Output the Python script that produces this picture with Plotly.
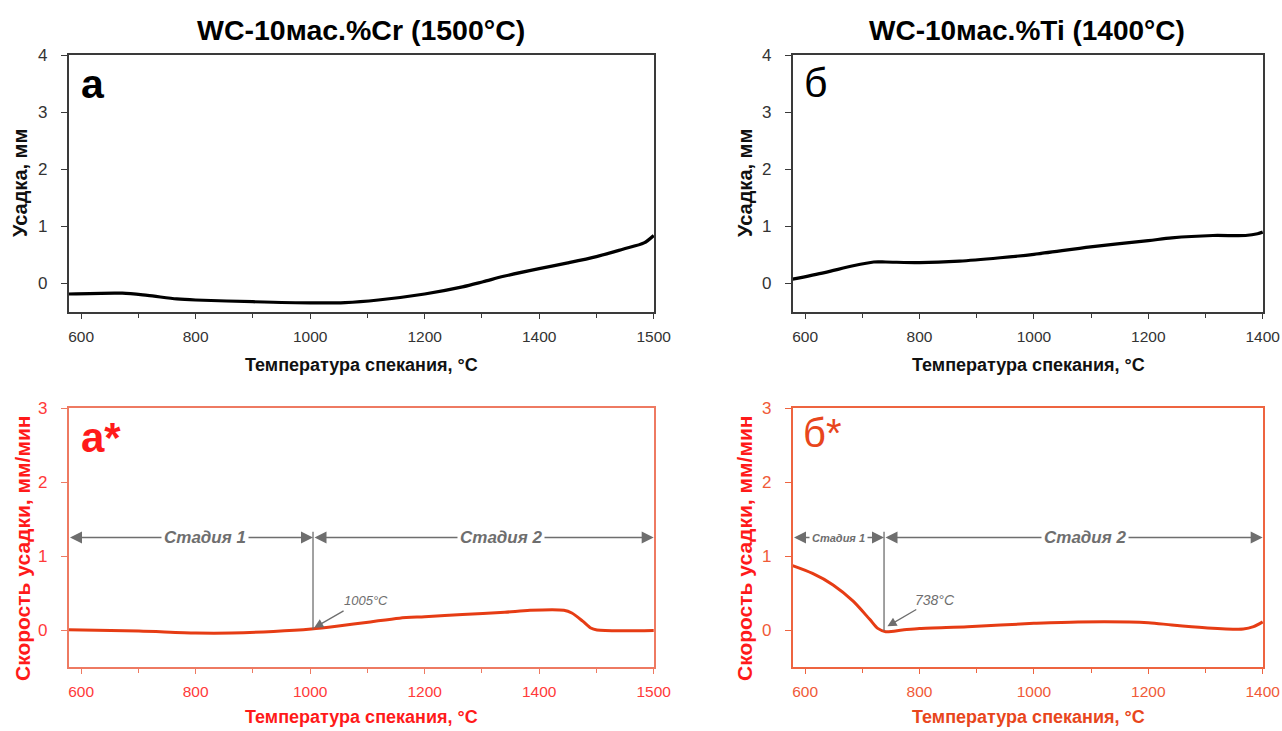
import plotly.graph_objects as go

# ---------------- data ----------------
cr_temp = [578, 672, 716, 767, 800, 900, 1000, 1061, 1119, 1200, 1266, 1302, 1340, 1400, 1450, 1500, 1546, 1583, 1600]
cr_shrink = [-0.185, -0.17, -0.21, -0.27, -0.29, -0.32, -0.34, -0.335, -0.29, -0.185, -0.06, 0.03, 0.13, 0.26, 0.36, 0.47, 0.60, 0.71, 0.84]

ti_temp = [578, 634, 684, 720, 741, 800, 870, 941, 1000, 1099, 1200, 1241, 1313, 1370, 1391, 1400]
ti_shrink = [0.075, 0.19, 0.31, 0.376, 0.376, 0.364, 0.39, 0.45, 0.51, 0.64, 0.75, 0.80, 0.84, 0.84, 0.87, 0.90]

cr_rate_temp = [578, 701, 800, 863, 936, 1002, 1046, 1105, 1156, 1200, 1266, 1340, 1384, 1443, 1457, 1476, 1490, 1501, 1600]
cr_rate = [0.005, -0.014, -0.04, -0.04, -0.02, 0.013, 0.05, 0.11, 0.16, 0.18, 0.21, 0.24, 0.266, 0.266, 0.23, 0.12, 0.027, 0.0, -0.005]

ti_rate_temp = [578, 613, 649, 684, 713, 727, 741, 770, 800, 884, 1000, 1077, 1200, 1241, 1299, 1366, 1384, 1400]
ti_rate = [0.87, 0.765, 0.61, 0.39, 0.144, 0.022, -0.022, 0.0, 0.022, 0.045, 0.09, 0.11, 0.10, 0.067, 0.03, 0.013, 0.045, 0.11]

# tick labels (left panels' last tick is labelled "1500" in the original)
left_tickvals = [600, 800, 1000, 1200, 1400, 1600]
left_ticktext = ["600", "800", "1000", "1200", "1400", "1500"]
left_minor = [700, 900, 1100, 1300, 1500]
right_tickvals = [600, 800, 1000, 1200, 1400]
right_ticktext = ["600", "800", "1000", "1200", "1400"]
right_minor = [700, 900, 1100, 1300]

top_yticks = [0, 1, 2, 3, 4]
bot_yticks = [0, 1, 2, 3]

titles = ["WC-10мас.%Cr (1500°C)", "WC-10мас.%Ti (1400°C)"]
x_title = "Температура спекания, °C"
y_title_top = "Усадка, мм"
y_title_bot = "Скорость усадки, мм/мин"

stage1_cr, stage_cr_split, stage_end_cr = 578, 1005, 1600
stage1_ti, stage_ti_split, stage_end_ti = 578, 738, 1400
stage_y = 1.25

# ---------------- styles ----------------
FONT = "Liberation Sans, Arial, sans-serif"
BLACK_AX = "#3a3a3a"
RED = "#ff1a1a"
RED_TICK = "#ff3a3a"
RED_AX = "#ee7a62"
OR_AX = "#ee6440"
OR_TICK = "#f05a38"
OR_TXT = "#e8461c"
CURVE_RED = "#e63c14"
GRAY = "#6e6e6e"

W, H = 1282, 731
def px_x(p):
    return p / W
def px_y(p):
    return 1 - p / H

L_DOM = [px_x(68.5), px_x(654)]
R_DOM = [px_x(792.5), px_x(1263)]
T_DOM = [px_y(312), px_y(55)]
B_DOM = [px_y(667), px_y(408)]

fig = go.Figure()
fig.add_trace(go.Scatter(x=cr_temp, y=cr_shrink, xaxis="x", yaxis="y", mode="lines",
                         line=dict(color="black", width=3.2, shape="spline", smoothing=0.8), showlegend=False))
fig.add_trace(go.Scatter(x=ti_temp, y=ti_shrink, xaxis="x2", yaxis="y2", mode="lines",
                         line=dict(color="black", width=3.2, shape="spline", smoothing=0.8), showlegend=False))
fig.add_trace(go.Scatter(x=cr_rate_temp, y=cr_rate, xaxis="x3", yaxis="y3", mode="lines",
                         line=dict(color=CURVE_RED, width=3, shape="spline", smoothing=0.8), showlegend=False))
fig.add_trace(go.Scatter(x=ti_rate_temp, y=ti_rate, xaxis="x4", yaxis="y4", mode="lines",
                         line=dict(color=CURVE_RED, width=3, shape="spline", smoothing=0.8), showlegend=False))

def xaxis(domain, anchor, rng, tv, tt, minor, axcol, tickcol):
    return dict(domain=domain, anchor=anchor, range=rng, tickmode="array", tickvals=tv, ticktext=tt,
                showline=True, linecolor=axcol, linewidth=1.5, mirror=True, ticks="outside", ticklen=5,
                tickcolor=axcol, tickwidth=1.2, showgrid=False, zeroline=False, automargin=False,
                tickfont=dict(family=FONT, size=15.5, color=tickcol), ticklabelstandoff=5,
                ticklabeloverflow="allow",
                minor=dict(tickmode="array", tickvals=minor, ticks="outside", ticklen=4, tickcolor=axcol, tickwidth=1.2, showgrid=False))

def yaxis(domain, anchor, rng, tv, axcol, tickcol):
    return dict(domain=domain, anchor=anchor, range=rng, tickmode="array", tickvals=tv,
                showline=True, linecolor=axcol, linewidth=1.5, mirror=True, ticks="outside", ticklen=6,
                tickcolor=axcol, tickwidth=1.2, showgrid=False, zeroline=False, automargin=False,
                tickfont=dict(family=FONT, size=17, color=tickcol), ticklabelstandoff=10)

fig.update_layout(
    width=W, height=H, template="none",
    paper_bgcolor="white", plot_bgcolor="white",
    margin=dict(l=0, r=0, t=0, b=0),
    xaxis=xaxis(L_DOM, "y", [578, 1600.5], left_tickvals, left_ticktext, left_minor, BLACK_AX, "#333333"),
    yaxis=yaxis(T_DOM, "x", [-0.5, 4.002], top_yticks, BLACK_AX, "#333333"),
    xaxis2=xaxis(R_DOM, "y2", [578, 1400.5], right_tickvals, right_ticktext, right_minor, BLACK_AX, "#333333"),
    yaxis2=yaxis(T_DOM, "x2", [-0.5, 4.002], top_yticks, BLACK_AX, "#333333"),
    xaxis3=xaxis(L_DOM, "y3", [578, 1600.5], left_tickvals, left_ticktext, left_minor, RED_AX, RED_TICK),
    yaxis3=yaxis(B_DOM, "x3", [-0.5, 3.002], bot_yticks, RED_AX, RED_TICK),
    xaxis4=xaxis(R_DOM, "y4", [578, 1400.5], right_tickvals, right_ticktext, right_minor, OR_AX, OR_TICK),
    yaxis4=yaxis(B_DOM, "x4", [-0.5, 3.002], bot_yticks, OR_AX, OR_TICK),
)

ann = []
def txt(x, y, text, size, color, bold=True, angle=0, xanchor="center", yanchor="middle", italic=False, family=FONT):
    t = text
    if bold:
        t = "<b>" + t + "</b>"
    if italic:
        t = "<i>" + t + "</i>"
    ann.append(dict(x=x, y=y, xref="paper", yref="paper", text=t, showarrow=False, textangle=angle,
                    xanchor=xanchor, yanchor=yanchor, font=dict(family=family, size=size, color=color)))

# titles
txt(px_x(361), px_y(30), titles[0], 28.5, "black")
txt(px_x(1027), px_y(30), titles[1], 28, "black")
# x titles
txt(px_x(361), px_y(365), x_title, 18, "#111111")
txt(px_x(1028), px_y(365), x_title, 18, "#111111")
txt(px_x(361), px_y(717), x_title, 18, RED)
txt(px_x(1028), px_y(717), x_title, 18, OR_TXT)
# y titles
txt(px_x(20), px_y(183), y_title_top, 20, "#111111", angle=-90)
txt(px_x(745), px_y(183), y_title_top, 20, "#111111", angle=-90)
txt(px_x(22), px_y(548), y_title_bot, 21, RED, angle=-90)
txt(px_x(744), px_y(548), y_title_bot, 21, RED, angle=-90)
# panel letters
txt(px_x(79), px_y(84), "а", 41, "black", xanchor="left")
txt(px_x(802), px_y(83), "б", 41, "black", xanchor="left", bold=False)
txt(px_x(79), px_y(437), "а*", 42, RED, xanchor="left")
txt(px_x(801), px_y(433), "б*", 40, OR_TXT, xanchor="left", bold=False)

# stage arrows
def darrow(xa, ya, x0, x1, y):
    ann.append(dict(xref=xa, yref=ya, axref=xa, ayref=ya, x=x1, y=y, ax=x0, ay=y, text="",
                    showarrow=True, arrowhead=2, startarrowhead=2, arrowside="end+start",
                    arrowsize=1.6, startarrowsize=1.6, arrowwidth=1.5, arrowcolor=GRAY, standoff=0, startstandoff=0))

def stage_text(xa, ya, x, y, text, size):
    ann.append(dict(xref=xa, yref=ya, x=x, y=y, text="<b><i>" + text + "</i></b>", showarrow=False,
                    bgcolor="white", borderpad=2, font=dict(family=FONT, size=size, color=GRAY)))

darrow("x3", "y3", stage1_cr, stage_cr_split, stage_y)
darrow("x3", "y3", stage_cr_split, stage_end_cr, stage_y)
stage_text("x3", "y3", 817, stage_y, "Стадия 1", 17)
stage_text("x3", "y3", 1333, stage_y, "Стадия 2", 17)
darrow("x4", "y4", stage1_ti, stage_ti_split, stage_y)
darrow("x4", "y4", stage_ti_split, stage_end_ti, stage_y)
stage_text("x4", "y4", 658, stage_y, "Стадия 1", 11)
stage_text("x4", "y4", 1090, stage_y, "Стадия 2", 17)

# point markers with temperature
ann.append(dict(xref="x3", yref="y3", axref="x3", ayref="y3", x=1007, y=0.03, ax=1061, ay=0.27, text="",
                showarrow=True, arrowhead=2, arrowsize=1.4, arrowwidth=1.3, arrowcolor=GRAY, standoff=0))
ann.append(dict(xref="x3", yref="y3", x=1098, y=0.40, text="<i>1005°C</i>", showarrow=False,
                font=dict(family=FONT, size=13, color=GRAY)))
ann.append(dict(xref="x4", yref="y4", axref="x4", ayref="y4", x=744, y=0.05, ax=797, ay=0.29, text="",
                showarrow=True, arrowhead=2, arrowsize=1.4, arrowwidth=1.3, arrowcolor=GRAY, standoff=0))
ann.append(dict(xref="x4", yref="y4", x=827, y=0.41, text="<i>738°C</i>", showarrow=False,
                font=dict(family=FONT, size=14, color=GRAY)))

fig.update_layout(annotations=ann)

# vertical split lines
fig.add_shape(type="line", xref="x3", yref="y3", x0=stage_cr_split, x1=stage_cr_split, y0=0.01, y1=1.33,
              line=dict(color=GRAY, width=1.3))
fig.add_shape(type="line", xref="x4", yref="y4", x0=stage_ti_split, x1=stage_ti_split, y0=-0.01, y1=1.33,
              line=dict(color=GRAY, width=1.3))

fig.write_html("out.html", config={"displayModeBar": False},
               post_script="document.body.style.margin='0';document.body.style.overflow='hidden';")
